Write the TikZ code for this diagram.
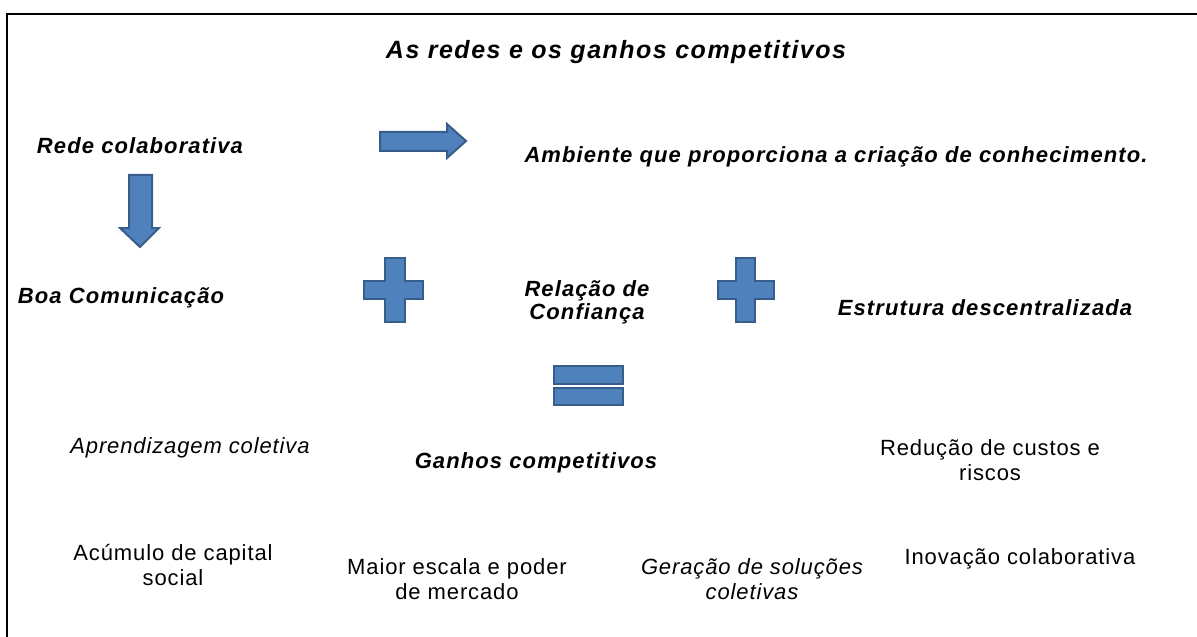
\documentclass[tikz,border=0pt]{standalone}
\usepackage{fontspec}
\setmainfont{Liberation Sans}
\newfontfamily\titleface{Liberation Sans}[LetterSpace=6]
\newfontfamily\wideface{Liberation Sans}[LetterSpace=5]
\newfontfamily\softface{Liberation Sans}[LetterSpace=4]
\definecolor{shapefill}{HTML}{4F81BD}
\definecolor{shapeedge}{HTML}{385D8A}
\tikzset{
  sign/.style={fill=shapefill, draw=shapeedge, line width=1pt, line join=miter},
  headlbl/.style={font=\titleface\fontsize{12.5}{14}\selectfont\bfseries\itshape, inner sep=0pt},
  keylbl/.style={font=\wideface\fontsize{11}{11.5}\selectfont\bfseries\itshape, align=center, inner sep=0pt},
  gainlbl/.style={font=\softface\fontsize{11}{12.5}\selectfont, align=center, inner sep=0pt},
}
\begin{document}
\begin{tikzpicture}[x=0.5pt, y=-0.5pt]
\useasboundingbox (0,0) rectangle (1197,636);
\draw[line width=1pt] (7,14) rectangle (1215,650);
% titulo
\node[headlbl] (title) at (616,52) {As redes e os ganhos competitivos};
% primeira linha
\node[keylbl] (rede) at (140,146) {Rede colaborativa};
\node[keylbl] (ambiente) at (836,157) {Ambiente que proporciona a criação de conhecimento.};
\draw[sign] (380,132) -- (447,132) -- (447,124) -- (466,141) -- (447,158) -- (447,151) -- (380,151) -- cycle;
\draw[sign] (129,175) -- (152,175) -- (152,228) -- (159,228) -- (140,247) -- (120,228) -- (129,228) -- cycle;
% segunda linha
\node[keylbl] (boa) at (121,298) {Boa Comunicação};
\node[keylbl] (confianca) at (587,302) {Relação de\\Confiança};
\node[keylbl] (estrutura) at (985,308) {Estrutura descentralizada};
\draw[sign] (385,258) -- (405,258) -- (405,281) -- (423,281) -- (423,299) -- (405,299) -- (405,322) -- (385,322) -- (385,299) -- (364,299) -- (364,281) -- (385,281) -- cycle;
\draw[sign] (736,258) -- (755,258) -- (755,281) -- (774,281) -- (774,299) -- (755,299) -- (755,322) -- (736,322) -- (736,299) -- (718,299) -- (718,281) -- (736,281) -- cycle;
\draw[sign] (554,366) rectangle (623,384);
\draw[sign] (554,388) rectangle (623,405);
% ganhos
\node[gainlbl, font=\softface\fontsize{11}{12.5}\selectfont\itshape] (aprend) at (190,448) {Aprendizagem coletiva};
\node[keylbl] (ganhos) at (536,463) {Ganhos competitivos};
\node[gainlbl] (custos) at (990,460) {Redução de custos e\\riscos};
\node[gainlbl] (capital) at (173,565) {Acúmulo de capital\\social};
\node[gainlbl] (escala) at (457,579) {Maior escala e poder\\de mercado};
\node[gainlbl, font=\softface\fontsize{11}{12.5}\selectfont\itshape] (solucoes) at (752,579) {Geração de soluções\\coletivas};
\node[gainlbl] (inovacao) at (1020,559) {Inovação colaborativa};
\end{tikzpicture}
\end{document}
